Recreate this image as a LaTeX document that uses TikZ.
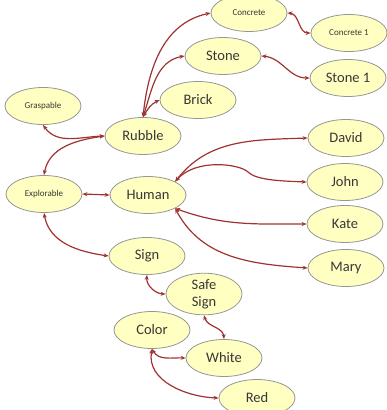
\documentclass[tikz,border=0pt]{standalone}
\usepackage{fontspec}
\setmainfont{Carlito}
\usetikzlibrary{arrows.meta,shapes.geometric}
\definecolor{nodefill}{RGB}{255,255,194}
\definecolor{nodeline}{RGB}{150,150,150}
\definecolor{linkred}{RGB}{160,50,50}
\definecolor{textgray}{RGB}{55,55,55}
\begin{document}
\begin{tikzpicture}[x=1pt,y=-1pt,
  concept/.style={ellipse,draw=nodeline,fill=nodefill,line width=0.8pt,
    minimum width=76pt,minimum height=37pt,inner sep=0pt,
    text=textgray,font=\fontsize{14.5}{15}\selectfont,align=center},
  smallconcept/.style={concept,font=\fontsize{9}{10}\selectfont},
  link/.style={draw=linkred,line width=1.2pt,
    {Stealth[length=5pt,width=4pt]}-{Stealth[length=5pt,width=4pt]}}]
\useasboundingbox (0,0) rectangle (387,410);

% concept nodes
\node[smallconcept] (conc)  at (249,13)  {Concrete};
\node[smallconcept] (conc1) at (349,33)  {Concrete 1};
\node[concept]      (stone) at (223,56)  {Stone};
\node[concept]      (stone1) at (348,78) {Stone 1};
\node[concept]      (brick) at (198,100) {Brick};
\node[smallconcept] (grasp) at (43,106)  {Graspable};
\node[concept]      (rubble) at (143,136) {Rubble};
\node[concept]      (david) at (346,138) {David};
\node[concept]      (john)  at (345,182) {John};
\node[smallconcept] (expl)  at (44,194)  {Explorable};
\node[concept]      (human) at (148,195) {Human};
\node[concept]      (kate)  at (345,224) {Kate};
\node[concept]      (mary)  at (346,268) {Mary};
\node[concept]      (sign)  at (147,256) {Sign};
\node[concept]      (safe)  at (204,294) {Safe\\[2pt]Sign};
\node[concept]      (color) at (152,330) {Color};
\node[concept]      (white) at (224,358) {White};
\node[concept]      (red)   at (257,398) {Red};

% links
\path[link] (rubble.north) to[out=84,in=192] (conc.west);
\path[link] (rubble.north) to[out=72,in=190] (stone.west);
\path[link] (rubble.north) to[out=60,in=205] (brick.west);
\path[link] (rubble.west) to[out=182,in=-55] (grasp.south);
\path[link] (rubble.west) to[out=188,in=80] (expl.north);
\path[link] (expl.east) -- (human.west);
\path[link] (expl.south) to[out=-80,in=172] (sign.west);
\path[link] (conc.east) to[out=-5,in=180] (conc1.west);
\path[link] (stone.east) to[out=-5,in=180] (stone1.west);
\path[link] (human.north east) to[out=52,in=182] (david.west);
\path[link] (human.north east) .. controls (196,158) and (240,164) .. (248,172)
  .. controls (256,180) and (280,181) .. (john.west);
\path[link] (human.south east) to[out=-20,in=180] (kate.west);
\path[link] (human.south east) to[out=-62,in=176] (mary.west);
\path[link] (sign.south) to[out=-95,in=178] (safe.west);
\path[link] (safe.south) to[out=-75,in=95] (white.north);
\path[link] (color.south) to[out=-60,in=178] (white.west);
\path[link] (color.south) to[out=-100,in=178] (red.west);
\end{tikzpicture}
\end{document}
